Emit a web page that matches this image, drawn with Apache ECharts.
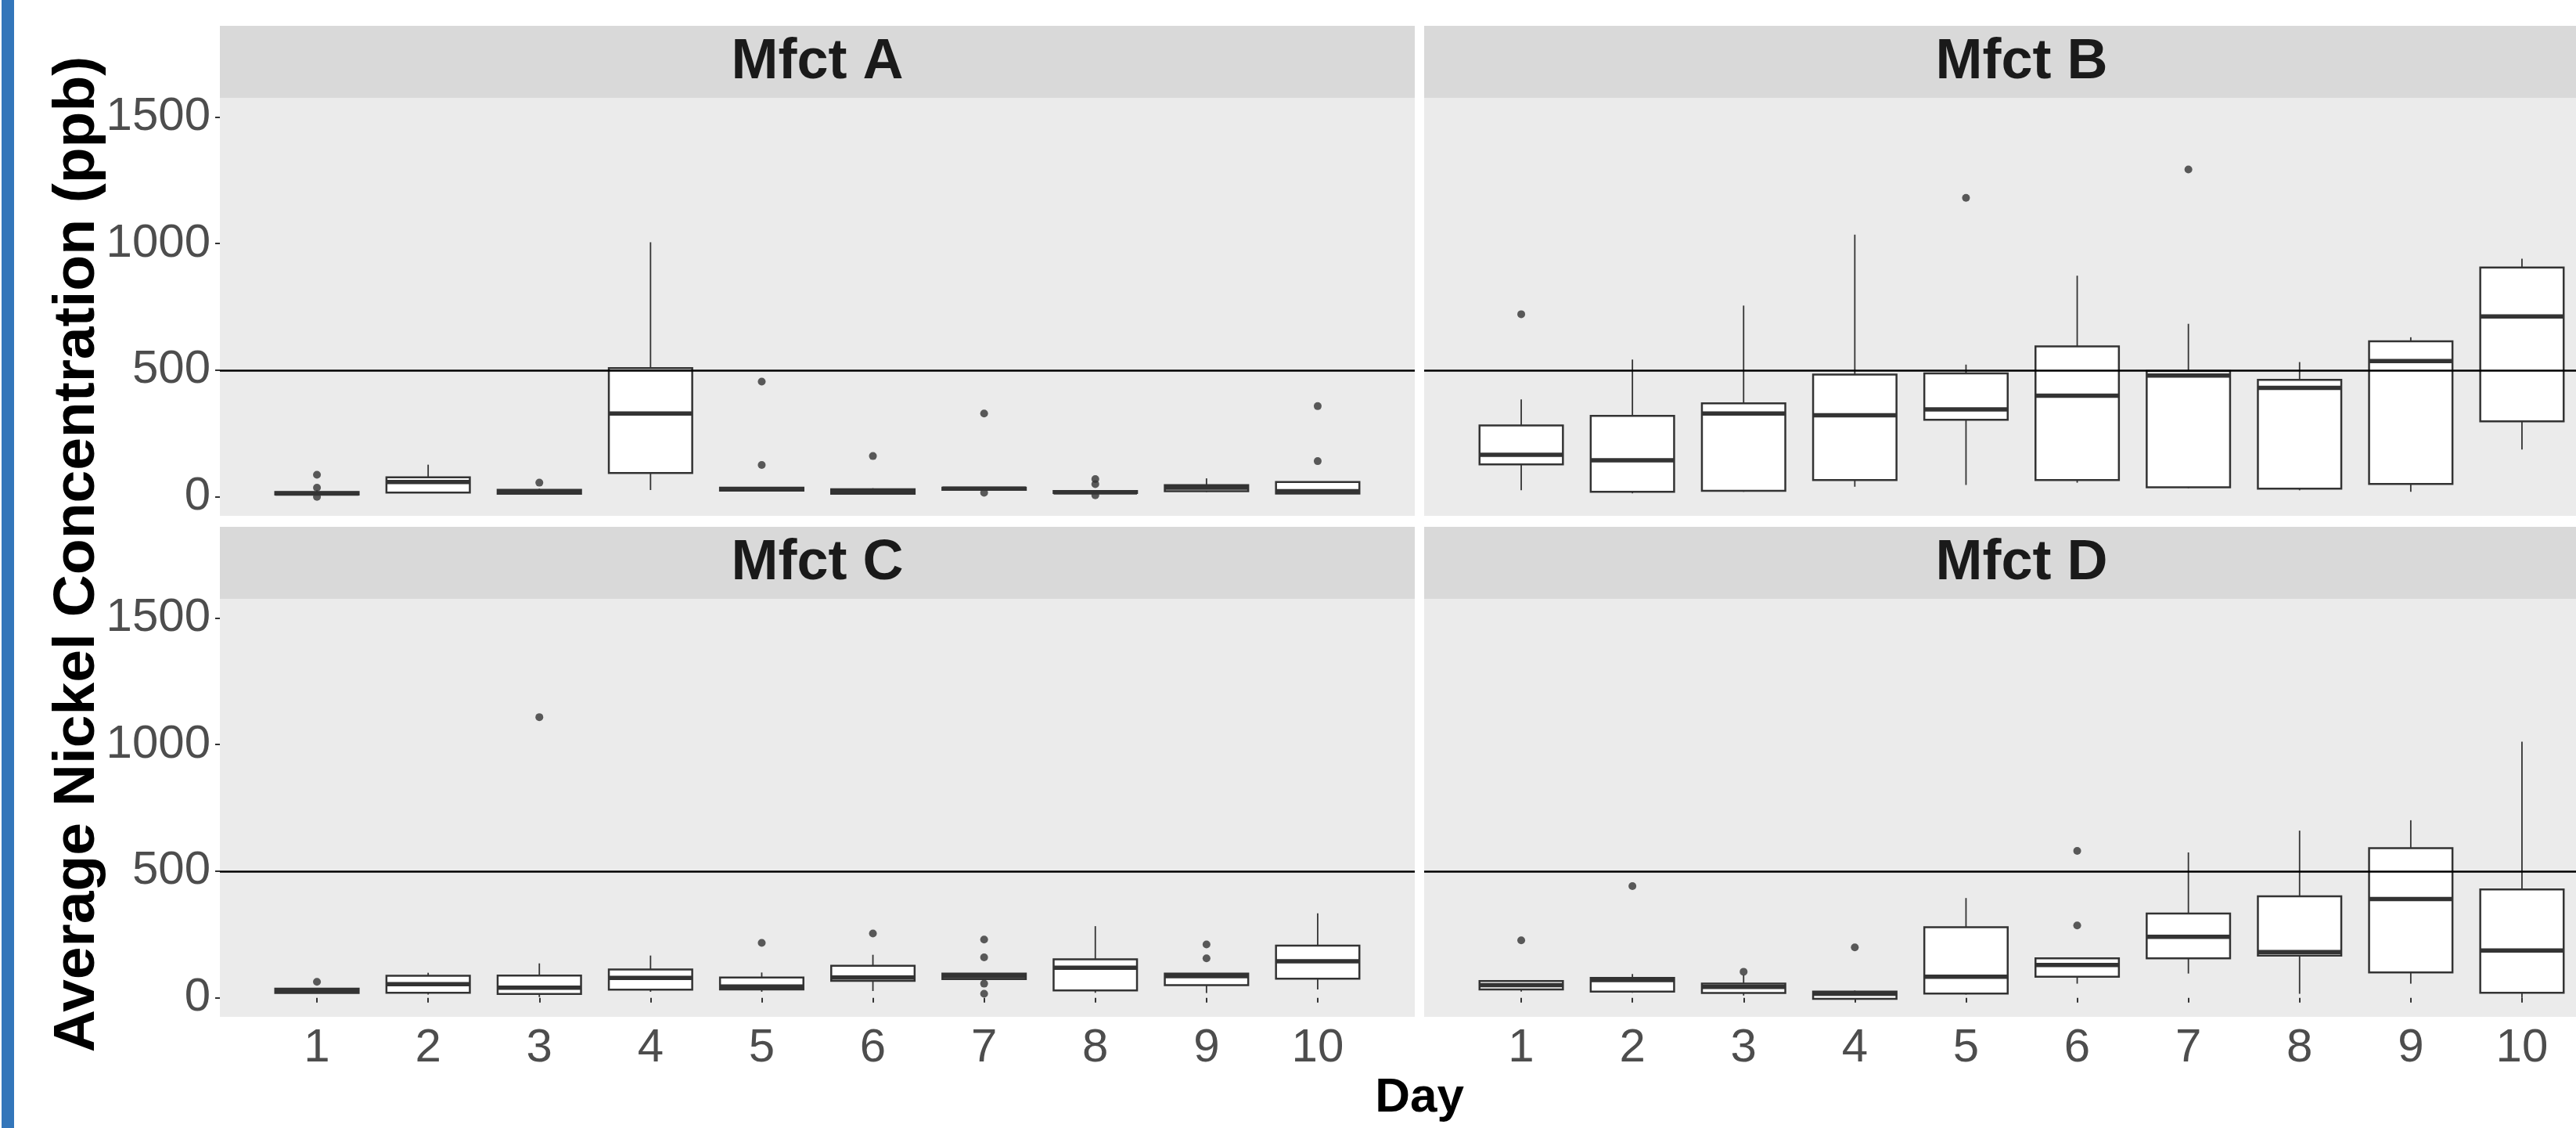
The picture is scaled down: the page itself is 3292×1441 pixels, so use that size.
<!DOCTYPE html>
<html>
<head>
<meta charset="utf-8">
<script src="https://cdn.jsdelivr.net/npm/echarts@6/dist/echarts.min.js"></script>
<style>
html,body{margin:0;padding:0;background:#fff;}
#chart{width:3292px;height:1441px;}
</style>
</head>
<body>
<div id="chart"></div>
<script>
// ---------------- data ----------------
const DAYS = [1, 2, 3, 4, 5, 6, 7, 8, 9, 10];
const Y_TICKS = [0, 500, 1000, 1500];
const PANEL_TITLES = ['Mfct A', 'Mfct B', 'Mfct C', 'Mfct D'];
const Y_TITLE = 'Average Nickel Concentration (ppb)';
const X_TITLE = 'Day';
const LIMIT = 500;

// [min, Q1, median, Q3, max] per day
const A_STATS = [
  [6, 9, 13, 19, 26], [15, 17, 59, 77, 127], [10, 12, 20, 28, 32], [27, 94, 329, 508, 1005],
  [22, 25, 30, 36, 39], [9, 12, 20, 30, 34], [26, 28, 32, 36, 39], [13, 15, 18, 23, 26],
  [19, 22, 36, 46, 73], [13, 13, 22, 59, 59]
];
const A_OUT = [[1, 87], [1, 36], [1, 0], [3, 56], [5, 455], [5, 126], [6, 161], [7, 329], [7, 16],
  [8, 70], [8, 50], [8, 6], [10, 358], [10, 141]];

const B_STATS = [
  [26, 128, 166, 282, 385], [14, 20, 144, 320, 542], [20, 24, 329, 369, 755], [40, 66, 322, 483, 1035],
  [47, 304, 345, 487, 522], [56, 66, 399, 594, 873], [34, 38, 479, 497, 683], [26, 32, 430, 462, 532],
  [20, 51, 536, 614, 630], [187, 298, 712, 905, 940]
];
const B_OUT = [[1, 721], [5, 1180], [7, 1292]];

const C_STATS = [
  [19, 19, 27, 36, 36], [13, 20, 54, 87, 99], [3, 15, 40, 88, 136], [24, 32, 79, 112, 167],
  [24, 33, 45, 80, 100], [27, 67, 80, 127, 170], [70, 74, 86, 96, 98], [20, 29, 119, 152, 283],
  [19, 50, 86, 96, 96], [33, 76, 144, 206, 334]
];
const C_OUT = [[1, 63], [3, 1108], [5, 217], [6, 254], [7, 230], [7, 160], [7, 56], [7, 16], [9, 211], [9, 156]];

const D_STATS = [
  [25, 33, 50, 66, 66], [20, 25, 70, 79, 94], [9, 19, 43, 56, 90], [-4, -4, 16, 25, 29],
  [13, 17, 83, 279, 394], [56, 83, 130, 156, 156], [96, 156, 241, 333, 574], [16, 167, 181, 401, 660],
  [56, 100, 390, 591, 701], [0, 20, 187, 428, 1011]
];
const D_OUT = [[1, 227], [2, 441], [3, 103], [4, 199], [6, 580], [6, 286]];

// ---------------- layout / style ----------------
const FONT = '"Liberation Sans", Arial, sans-serif';
const INK = '#333333';
const X_MIN = 0.127, X_MAX = 10.873;
const Y_MIN = -75, Y_MAX = 1575;
const BOX_W = 0.75;
const PANEL_W = 1527, PANEL_H = 534, STRIP_H = 92;
const COL_X = [281, 1820];
const ROW_Y = [125, 765];

const statsList = [A_STATS, B_STATS, C_STATS, D_STATS];
const outList = [A_OUT, B_OUT, C_OUT, D_OUT];

function renderBox(params, api) {
  const x = api.value(0);
  const lo = api.coord([x, api.value(1)]);
  const q1 = api.coord([x, api.value(2)]);
  const med = api.coord([x, api.value(3)]);
  const q3 = api.coord([x, api.value(4)]);
  const hi = api.coord([x, api.value(5)]);
  const hw = api.size([BOX_W, 0])[0] / 2;
  return {
    type: 'group',
    children: [
      {type: 'line', shape: {x1: lo[0], y1: lo[1], x2: q1[0], y2: q1[1]}, style: {stroke: INK, lineWidth: 1.8}},
      {type: 'line', shape: {x1: q3[0], y1: q3[1], x2: hi[0], y2: hi[1]}, style: {stroke: INK, lineWidth: 1.8}},
      {type: 'rect', shape: {x: q3[0] - hw, y: q3[1], width: 2 * hw, height: q1[1] - q3[1]},
        style: {fill: '#ffffff', stroke: INK, lineWidth: 2.5}},
      {type: 'line', shape: {x1: med[0] - hw, y1: med[1], x2: med[0] + hw, y2: med[1]},
        style: {stroke: INK, lineWidth: 5.5}}
    ]
  };
}

const grids = [], xAxes = [], yAxes = [], series = [], graphics = [];

for (let p = 0; p < 4; p++) {
  const col = p % 2, row = Math.floor(p / 2);
  const left = COL_X[col], top = ROW_Y[row];
  grids.push({left: left, top: top, width: PANEL_W, height: PANEL_H, show: true,
    backgroundColor: '#EBEBEB', borderWidth: 0, containLabel: false, outerBoundsMode: 'none'});
  const bottomRow = row === 1, leftCol = col === 0;
  xAxes.push({
    type: 'value', gridIndex: p, min: X_MIN, max: X_MAX,
    axisLine: {show: false}, splitLine: {show: false},
    axisTick: {show: bottomRow, customValues: DAYS, length: 6, lineStyle: {color: INK, width: 2}},
    axisLabel: {show: bottomRow, customValues: DAYS, fontSize: 60, color: '#4D4D4D', fontFamily: FONT, margin: 10,
      formatter: v => String(Math.round(v))}
  });
  yAxes.push({
    type: 'value', gridIndex: p, min: Y_MIN, max: Y_MAX,
    axisLine: {show: false}, splitLine: {show: false},
    axisTick: {show: leftCol, customValues: Y_TICKS, length: 6, lineStyle: {color: INK, width: 2}},
    axisLabel: {show: leftCol, customValues: Y_TICKS, fontSize: 60, color: '#4D4D4D', fontFamily: FONT, margin: 12,
      formatter: v => String(Math.round(v))}
  });
  series.push({
    type: 'custom', xAxisIndex: p, yAxisIndex: p,
    renderItem: renderBox,
    encode: {x: 0, y: [1, 2, 3, 4, 5]},
    data: DAYS.map((d, i) => [d].concat(statsList[p][i])),
    z: 2, silent: true
  });
  series.push({
    type: 'scatter', xAxisIndex: p, yAxisIndex: p,
    data: outList[p], symbol: 'circle', symbolSize: 10,
    itemStyle: {color: INK}, z: 3, silent: true,
    markLine: {silent: true, symbol: 'none', animation: false,
      lineStyle: {color: '#000000', width: 2.5, type: 'solid'},
      label: {show: false}, data: [{yAxis: LIMIT}]}
  });
  // facet strip
  graphics.push({type: 'rect', shape: {x: left, y: top - STRIP_H, width: PANEL_W, height: STRIP_H},
    style: {fill: '#D9D9D9'}, silent: true});
  graphics.push({type: 'text', x: left + PANEL_W / 2, y: top - STRIP_H / 2 + 1,
    style: {text: PANEL_TITLES[p], fontSize: 72, fontWeight: 'bold', fontFamily: FONT, fill: '#1A1A1A',
      align: 'center', verticalAlign: 'middle', textAlign: 'center', textVerticalAlign: 'middle'}, silent: true});
}

// left blue bar
graphics.push({type: 'rect', shape: {x: 2, y: 0, width: 16, height: 1441}, style: {fill: '#3376BA'}, silent: true});
// y axis title
graphics.push({type: 'text', x: 99, y: 708, rotation: Math.PI / 2,
  style: {text: Y_TITLE, fontSize: 75, fontWeight: 'bold', fontFamily: FONT, fill: '#000000',
    align: 'center', verticalAlign: 'middle', textAlign: 'center', textVerticalAlign: 'middle'}, silent: true});
// x axis title
graphics.push({type: 'text', x: 1814, y: 1403,
  style: {text: X_TITLE, fontSize: 62, fontWeight: 'bold', fontFamily: FONT, fill: '#000000',
    align: 'center', verticalAlign: 'middle', textAlign: 'center', textVerticalAlign: 'middle'}, silent: true});

const chart = echarts.init(document.getElementById('chart'), null, {renderer: 'canvas', width: 3292, height: 1441});
chart.setOption({
  animation: false,
  backgroundColor: '#ffffff',
  grid: grids,
  xAxis: xAxes,
  yAxis: yAxes,
  series: series,
  graphic: {elements: graphics}
});
</script>
</body>
</html>
